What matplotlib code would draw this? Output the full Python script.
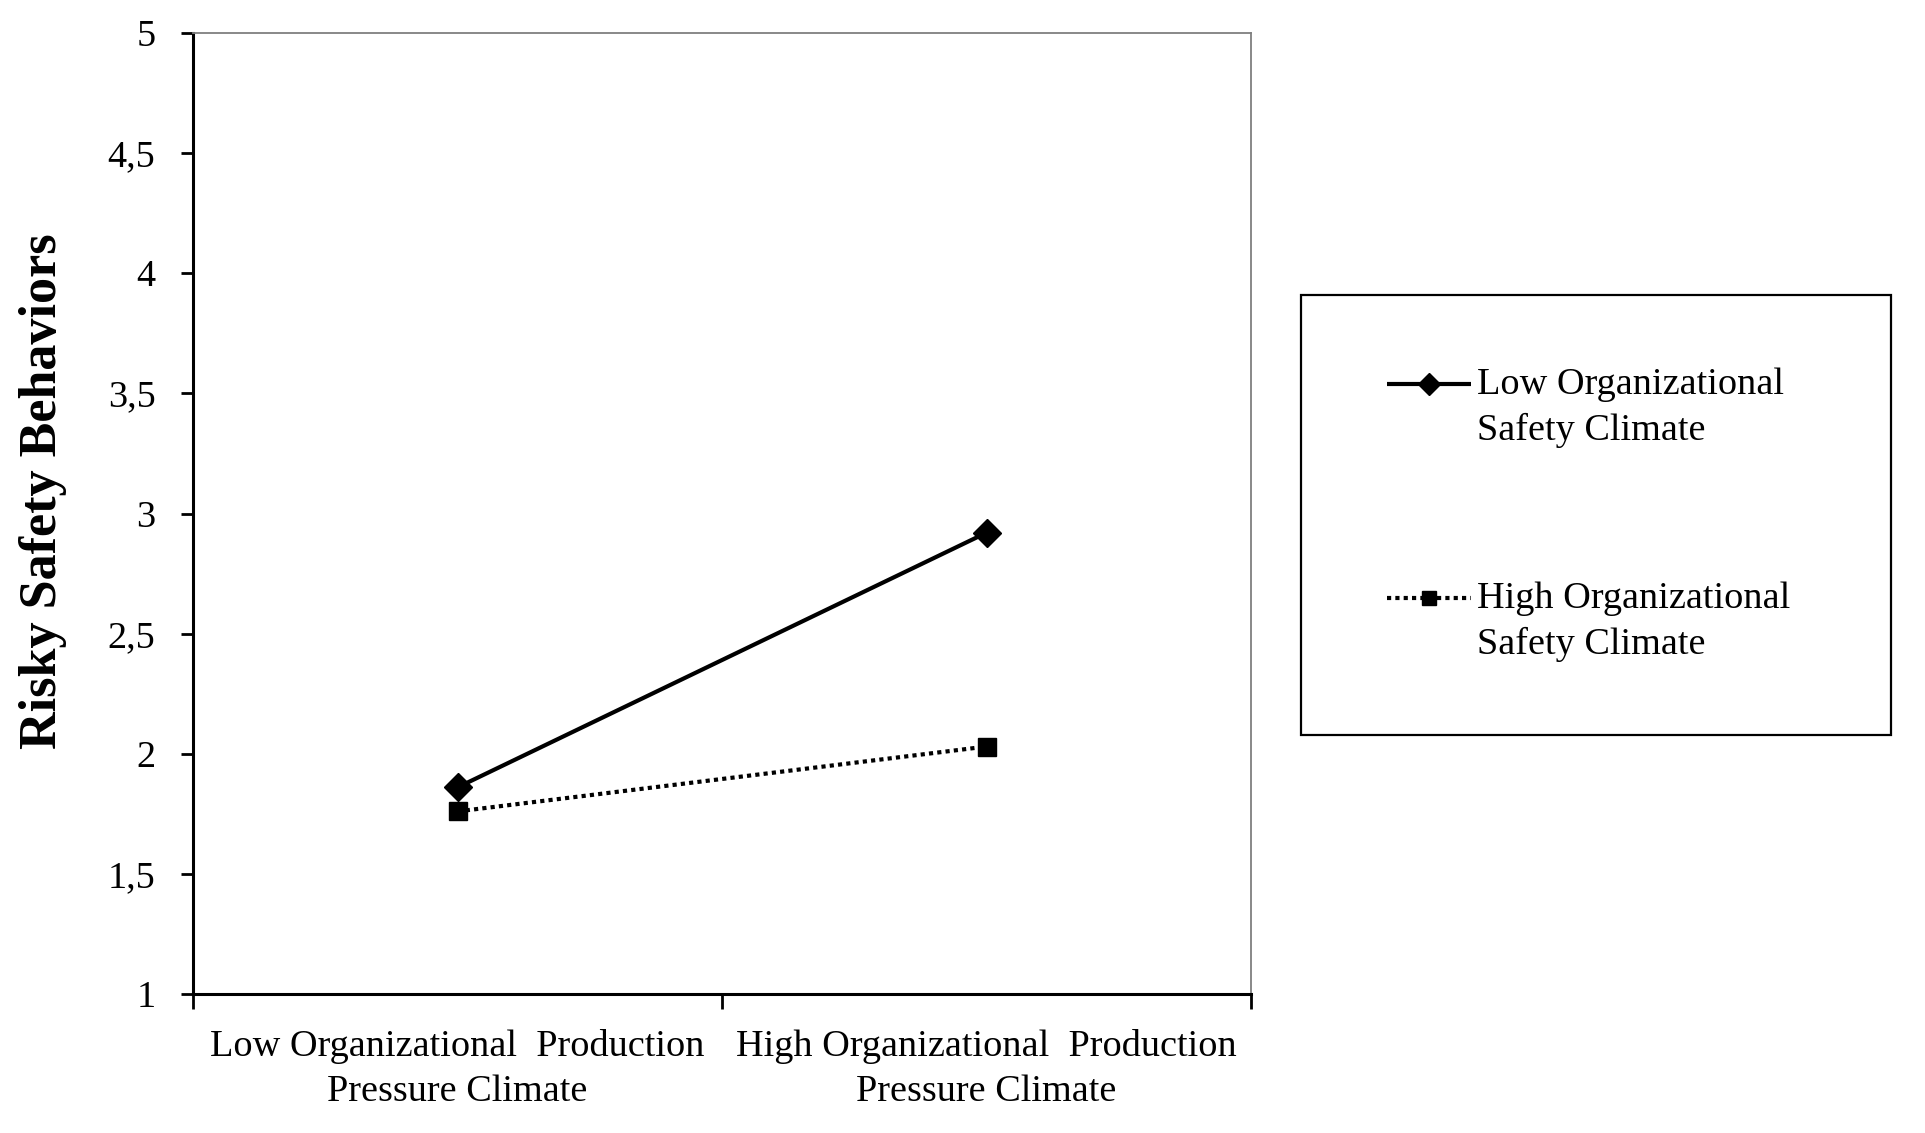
import numpy as np
import matplotlib
matplotlib.use("Agg")
import matplotlib.pyplot as plt
from matplotlib.legend_handler import HandlerLine2D

# ---- data ----
categories = ["Low Organizational  Production\nPressure Climate",
              "High Organizational  Production\nPressure Climate"]
series_names = ["Low Organizational\nSafety Climate",
                "High Organizational\nSafety Climate"]
low_osc = [1.86, 2.92]
high_osc = [1.76, 2.03]
ytick_values = [1, 1.5, 2, 2.5, 3, 3.5, 4, 4.5, 5]
ytick_labels = ["1", "1,5", "2", "2,5", "3", "3,5", "4", "4,5", "5"]
ylabel = "Risky Safety Behaviors"

plt.rcParams['font.family'] = ['Liberation Serif', 'DejaVu Serif']
FS = 27.5

fig = plt.figure(figsize=(19.25, 11.33), dpi=100)
ax = fig.add_axes([193/1925, 1-994/1133, (1251-193)/1925, (994-33)/1133])

xpos = np.arange(len(categories)) + 0.5
l1, = ax.plot(xpos, low_osc, color='black', lw=3.0, marker='D', markersize=14,
              solid_capstyle='butt')
l2, = ax.plot(xpos, high_osc, color='black', lw=3.0, linestyle=(0, (1, 1)),
              marker='s', markersize=13)

ax.set_xlim(0, len(categories))
ax.set_ylim(1, 5)
ax.set_yticks(ytick_values)
ax.set_yticklabels(ytick_labels, fontsize=FS)
ax.set_xticks(np.arange(len(categories) + 1))
ax.set_xticklabels([])
ax.set_xticks(xpos, minor=True)
ax.set_xticklabels(categories, minor=True, fontsize=FS, linespacing=1.4)
ax.tick_params(axis='x', which='minor', length=0, pad=25)
ax.tick_params(axis='x', which='major', length=11, width=2, direction='out')
ax.tick_params(axis='y', which='major', length=9, width=2, direction='out', pad=18)

for s in ['left', 'bottom']:
    ax.spines[s].set_linewidth(2.2)
    ax.spines[s].set_color('black')
for s in ['top', 'right']:
    ax.spines[s].set_linewidth(1.3)
    ax.spines[s].set_color('#7f7f7f')

ax.set_ylabel(ylabel, fontsize=37.5, fontweight='bold', va='center')
ax.yaxis.set_label_coords((43-193)/1058, (994-491)/961)


class ShiftedHandler(HandlerLine2D):
    def __init__(self, dx=0.0, dy=0.0, **kw):
        super().__init__(**kw)
        self.dx = dx
        self.dy = dy

    def create_artists(self, legend, orig_handle, xdescent, ydescent, width,
                       height, fontsize, trans):
        arts = super().create_artists(legend, orig_handle, xdescent, ydescent,
                                      width, height, fontsize, trans)
        for a in arts:
            x = np.asarray(a.get_xdata(), float) + self.dx
            y = np.asarray(a.get_ydata(), float) + self.dy
            a.set_data(x, y)
        return arts


h = ShiftedHandler(dx=9.5, dy=16.8)
leg = fig.legend([l1, l2], series_names, loc='upper left',
                 bbox_to_anchor=(1301/1925, 1-296/1133, 590/1925, 0.001),
                 mode='expand', fontsize=FS, frameon=True, fancybox=False,
                 edgecolor='black', framealpha=1, borderpad=1.9,
                 labelspacing=3.5, handlelength=2.2, handletextpad=0.5,
                 markerscale=0.8, borderaxespad=0,
                 handler_map={l1: h, l2: h})
leg.get_frame().set_linewidth(1.6)
for t in leg.get_texts():
    t.set_linespacing(1.4)

fig.savefig('out.png', dpi=100)
